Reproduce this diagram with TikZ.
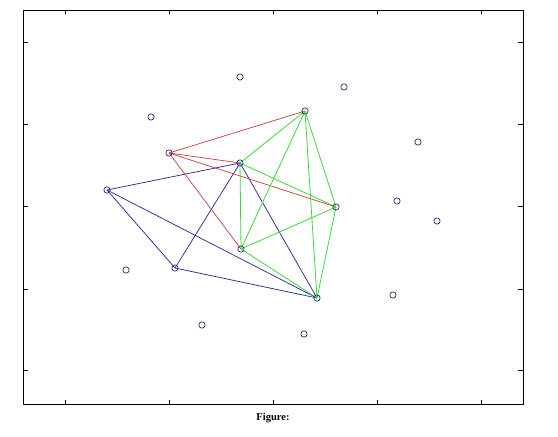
\documentclass[tikz,border=0pt]{standalone}
\usepackage{fontspec}
\setmainfont{Liberation Serif}
\usepackage{tikz}
\usetikzlibrary{positioning}

\definecolor{ptnavy}{HTML}{34347A}
\definecolor{edgeblue}{HTML}{2E2E8E}
\definecolor{edgered}{HTML}{C04A48}
\definecolor{edgegreen}{HTML}{3AD83A}

\begin{document}
\begin{tikzpicture}[
			x=1pt, y=-1pt,
			pt/.style={draw=ptnavy, circle, line width=0.75pt, inner sep=0pt, minimum size=6.3pt},
			rd/.style={draw=edgered, line width=0.75pt},
			gr/.style={draw=edgegreen, line width=0.8pt},
			bl/.style={draw=edgeblue, line width=0.75pt},
			tk/.style={line width=0.8pt}
		]
		\useasboundingbox (0,0) rectangle (558,437);

		% axes box and ticks
		\draw[line width=1pt] (23,10) rectangle (523,404);
		\foreach \tx in {65,169,273,377,481} {
			\draw[tk] (\tx,10) -- (\tx,14);
			\draw[tk] (\tx,404) -- (\tx,400);
		}
		\foreach \ty in {42.7,124.3,206.7,289,370.7} {
			\draw[tk] (23,\ty) -- (28,\ty);
			\draw[tk] (523,\ty) -- (518,\ty);
		}

		% points
		\coordinate (pA) at (169,153);
		\coordinate (pB) at (240,163);
		\coordinate (pC) at (305,111);
		\coordinate (pD) at (336,207);
		\coordinate (pE) at (241,249);
		\coordinate (pF) at (107,190);
		\coordinate (pG) at (175,268);
		\coordinate (pH) at (317,298);

		% blue edges
		\draw[bl] (pF) -- (pB);
		\draw[bl] (pF) -- (pG);
		\draw[bl] (pF) -- (pH);
		\draw[bl] (pG) -- (pB);
		\draw[bl] (pG) -- (pH);
		\draw[bl] (pB) -- (pH);

		% red edges
		\draw[rd] (pA) -- (pC);
		\draw[rd] (pA) -- (pB);
		\draw[rd] (pA) -- (pD);
		\draw[rd] (pA) -- (pE);

		% green edges
		\draw[gr] (pC) -- (pB);
		\draw[gr] (pC) -- (pE);
		\draw[gr] (pC) -- (pD);
		\draw[gr] (pC) -- (pH);
		\draw[gr] (pB) -- (pE);
		\draw[gr] (pB) -- (pD);
		\draw[gr] (pE) -- (pD);
		\draw[gr] (pE) -- (pH);
		\draw[gr] (pD) -- (pH);

		% markers
		\foreach \p in {pA,pB,pC,pD,pE,pF,pG,pH}
			\node[pt] (m\p) at (\p) {};
		\node[pt] (q1) at (240,77) {};
		\node[pt] (q2) at (151,117) {};
		\node[pt] (q3) at (344,87) {};
		\node[pt] (q4) at (418,142) {};
		\node[pt] (q5) at (397,201) {};
		\node[pt] (q6) at (437,221) {};
		\node[pt] (q7) at (126,270) {};
		\node[pt] (q8) at (202,325) {};
		\node[pt] (q9) at (304,334) {};
		\node[pt] (q10) at (393,295) {};

		\node[font=\fontsize{10.5}{12}\selectfont\bfseries] (cap) at (273,418.5) {Figure:};
	\end{tikzpicture}
\end{document}
